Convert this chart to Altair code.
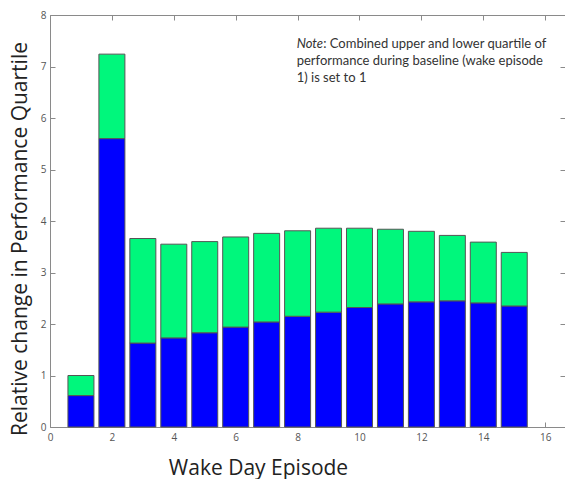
import altair as alt
import pandas as pd

# ---- data ----
episodes = list(range(1, 16))
lower_q = [0.61, 5.60, 1.63, 1.73, 1.83, 1.94, 2.04, 2.15, 2.23, 2.32, 2.39, 2.43, 2.45, 2.41, 2.35]
total_q = [1.00, 7.24, 3.66, 3.55, 3.60, 3.69, 3.76, 3.81, 3.86, 3.86, 3.84, 3.80, 3.72, 3.59, 3.39]
x_ticks = [0, 2, 4, 6, 8, 10, 12, 14, 16]
y_ticks = [0, 1, 2, 3, 4, 5, 6, 7, 8]
note_italic = "Note"
note_line1 = ": Combined upper and lower quartile of"
note_rest = "performance during baseline (wake episode\n1) is set to 1"
x_title = "Wake Day Episode"
y_title = "Relative change in Performance Quartile"

half_w = 0.42
df = pd.DataFrame({"ep": episodes, "lower": lower_q, "total": total_q})
df["x0"] = df["ep"] - half_w
df["x1"] = df["ep"] + half_w
df["zero"] = 0.0

W, H = 515, 412
PAD_L, PAD_T, PAD_B = 42, 7, 55
FRAME = "#8a8a8a"
LBL = "#555555"

xs = alt.Scale(domain=[0, 16.64], nice=False, zero=False)
ys = alt.Scale(domain=[0, 8], nice=False)

common_axis = dict(labelFlush=False, tickColor=FRAME, grid=False)

blue = alt.Chart(df).mark_bar(color="#0000FF", stroke="#555555", strokeWidth=1).encode(
    x=alt.X("x0:Q", scale=xs, axis=alt.Axis(
        values=x_ticks, orient="bottom", tickSize=0, labelPadding=5,
        labelFontSize=10, labelColor=LBL, labelFont="Open Sans", domainColor=FRAME,
        title=x_title, titleFont="Open Sans", titleFontSize=21, titleFontWeight="normal",
        titleColor="#222222", titleX=208, titleY=47, titleBaseline="alphabetic", titleAlign="center",
        **common_axis)),
    x2="x1:Q",
    y=alt.Y("zero:Q", scale=ys, axis=alt.Axis(
        values=y_ticks, orient="left", tickSize=0, labelPadding=4,
        labelFontSize=10, labelColor=LBL, labelFont="Open Sans", domainColor=FRAME,
        title=y_title, titleFont="Open Sans", titleFontSize=21, titleFontWeight="normal",
        titleColor="#222222", titleX=-23.3, titleY=223.5, titleAngle=270,
        titleBaseline="alphabetic", titleAlign="center",
        **common_axis)),
    y2="lower:Q",
)

green = alt.Chart(df).mark_bar(color="#00F77C", stroke="#555555", strokeWidth=1).encode(
    x=alt.X("x0:Q", scale=xs, axis=alt.Axis(
        values=x_ticks, orient="bottom", offset=-H, tickSize=5, labels=False,
        domainColor=FRAME, title="", **common_axis)),
    x2="x1:Q",
    y=alt.Y("lower:Q", scale=ys, axis=alt.Axis(
        values=y_ticks, orient="left", offset=-W, tickSize=5, labels=False,
        domain=False, title="", **common_axis)),
    y2="total:Q",
)

ghost = alt.Chart(df).mark_bar(opacity=0).encode(
    x=alt.X("x0:Q", scale=xs, axis=alt.Axis(
        values=x_ticks, orient="top", offset=-H, tickSize=5, labels=False,
        domain=False, title="", **common_axis)),
    x2="x1:Q",
    y=alt.Y("zero:Q", scale=ys, axis=alt.Axis(
        values=y_ticks, orient="right", offset=-W, tickSize=5, labels=False,
        domain=False, title="", **common_axis)),
    y2="lower:Q",
)

NX, NY, LH = 246.7, 33.3, 16.7
FS = 13
note_a = alt.Chart(pd.DataFrame({"t": [note_italic]})).mark_text(
    font="Lato", fontSize=FS, fontStyle="italic", color="#333333",
    align="left", baseline="alphabetic").encode(
    text="t:N", x=alt.value(NX), y=alt.value(NY))
note_b = alt.Chart(pd.DataFrame({"t": [note_line1]})).mark_text(
    font="Lato", fontSize=FS, color="#333333",
    align="left", baseline="alphabetic").encode(
    text="t:N", x=alt.value(NX + 26.5), y=alt.value(NY))
note_c = alt.Chart(pd.DataFrame({"t": [note_rest]})).mark_text(
    font="Lato", fontSize=FS, color="#333333", lineBreak="\n", lineHeight=LH,
    align="left", baseline="alphabetic").encode(
    text="t:N", x=alt.value(NX), y=alt.value(NY + LH))

chart = alt.layer(blue, green, ghost, note_a, note_b, note_c).resolve_axis(
    x="independent", y="independent").resolve_scale(x="shared", y="shared").properties(
    width=W, height=H,
    autosize=alt.AutoSizeParams(type="none"),
    padding={"left": PAD_L, "top": PAD_T, "right": 0, "bottom": PAD_B},
).configure_view(stroke=None).configure(background="white")

chart.save("out.html", embed_options={"renderer": "svg", "actions": False})
